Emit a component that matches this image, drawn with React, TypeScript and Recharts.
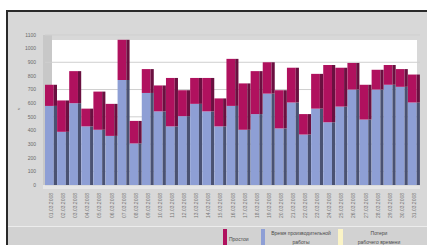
import React from 'react';
import { Bar, BarChart, CartesianGrid, XAxis, YAxis } from 'recharts';

// ─── Data ────────────────────────────────────────────────────────────────────

const days = [
  '01.03.2008', '02.03.2008', '03.03.2008', '04.03.2008', '05.03.2008', '06.03.2008',
  '07.03.2008', '08.03.2008', '09.03.2008', '10.03.2008', '11.03.2008', '12.03.2008',
  '13.03.2008', '14.03.2008', '15.03.2008', '16.03.2008', '17.03.2008', '18.03.2008',
  '19.03.2008', '20.03.2008', '21.03.2008', '22.03.2008', '23.03.2008', '24.03.2008',
  '25.03.2008', '26.03.2008', '27.03.2008', '28.03.2008', '29.03.2008', '30.03.2008',
  '31.03.2008',
];

const productiveTime = [
  580, 390, 600, 430, 405, 360, 770, 305, 675, 540, 430, 505, 595, 540, 430, 580,
  405, 520, 670, 415, 605, 370, 560, 460, 575, 700, 480, 700, 735, 720, 605,
];

const downtime = [
  155, 230, 235, 130, 280, 235, 295, 165, 175, 190, 355, 190, 190, 245, 205, 345,
  340, 315, 230, 280, 255, 150, 255, 420, 285, 195, 255, 145, 145, 130, 205,
];

const lostTime = [
  0, 0, 0, 0, 0, 0, 0, 0, 0, 0, 0, 0, 0, 0, 0, 0,
  0, 0, 0, 0, 0, 0, 0, 0, 0, 0, 0, 0, 0, 0, 0,
];

const yTicks = [0, 100, 200, 300, 400, 500, 600, 700, 800, 900, 1000, 1100];

const seriesNames = ['Простои', 'Время производительной работы', 'Потери рабочего времени'];

const chartData = days.map((day, i) => ({
  day,
  productive: productiveTime[i],
  downtime: downtime[i],
  lost: lostTime[i],
}));

// ─── Colours ─────────────────────────────────────────────────────────────────

const MAGENTA = '#b0115e';
const MAGENTA_SIDE = '#6a1040';
const BLUE = '#8e9fd5';
const BLUE_SIDE = '#4a5272';
const YELLOW = '#fbf4c6';
const FONT = '"Liberation Sans", Arial, sans-serif';

// ─── Pseudo-3D bar shape ─────────────────────────────────────────────────────

function Bar3D(props: any) {
  const { x, y, width, height, fill, side } = props;
  if (!height || height <= 0) return null;
  const sw = Math.max(2, width * 0.27);
  return (
    <g>
      <rect x={x} y={y} width={width - sw} height={height} fill={fill} />
      <rect x={x + width - sw} y={y} width={sw} height={height} fill={side} />
    </g>
  );
}

function DayTick(props: any) {
  const { x, y, payload } = props;
  return (
    <text
      x={x}
      y={y}
      transform={`rotate(-90 ${x} ${y})`}
      textAnchor="end"
      dominantBaseline="central"
      fontSize={5}
      fontFamily={FONT}
      fill="#777777"
    >
      {payload.value}
    </text>
  );
}

// ─── Legend ──────────────────────────────────────────────────────────────────

const legendText: React.CSSProperties = {
  position: 'absolute',
  fontFamily: FONT,
  fontSize: 5,
  lineHeight: '9px',
  color: '#4a4a4a',
  textAlign: 'center',
};

export default function App() {
  return (
    <div
      style={{
        position: 'absolute',
        left: 0,
        top: 0,
        width: 427,
        height: 245,
        background: '#ffffff',
        overflow: 'hidden',
      }}
    >
      {/* frame */}
      <div
        style={{
          position: 'absolute',
          left: 6,
          top: 10,
          width: 421,
          height: 235,
          background: '#d8d8d8',
          borderLeft: '2px solid #2a2a2a',
          borderTop: '2px solid #2a2a2a',
          boxSizing: 'border-box',
        }}
      />
      {/* side wall and back wall of the 3D plot */}
      <div style={{ position: 'absolute', left: 43, top: 35, width: 9, height: 150, background: '#c8c8c8' }} />
      <div style={{ position: 'absolute', left: 52, top: 40, width: 365, height: 145, background: '#ffffff' }} />
      <div style={{ position: 'absolute', left: 43, top: 185, width: 377, height: 4, background: '#e6e6e6' }} />
      {/* legend area */}
      <div
        style={{
          position: 'absolute',
          left: 8,
          top: 226,
          width: 419,
          height: 19,
          background: '#d2d2d2',
          borderTop: '1px solid #ececec',
        }}
      />

      <div style={{ position: 'absolute', left: 0, top: 0 }}>
        <BarChart
          width={427}
          height={245}
          data={chartData}
          margin={{ top: 35, right: 7, bottom: 20, left: 8 }}
          barCategoryGap={0}
        >
          <CartesianGrid horizontal vertical={false} stroke="#cfcfcf" />
          <XAxis
            dataKey="day"
            interval={0}
            height={40}
            tick={<DayTick />}
            tickLine={false}
            axisLine={false}
            tickSize={0}
            tickMargin={8}
          />
          <YAxis
            type="number"
            domain={[0, 1100]}
            ticks={yTicks}
            width={37}
            tickLine={false}
            axisLine={false}
            tickSize={0}
            tickMargin={9}
            tick={{ fontSize: 5, fill: '#6a6a6a', fontFamily: FONT }}
            label={{
              value: 'ч',
              angle: -90,
              position: 'insideLeft',
              offset: 10,
              fontSize: 5,
              fill: '#6a6a6a',
            }}
          />
          <Bar
            dataKey="productive"
            name={seriesNames[1]}
            stackId="a"
            fill={BLUE}
            shape={(p: any) => <Bar3D {...p} side={BLUE_SIDE} />}
            isAnimationActive={false}
          />
          <Bar
            dataKey="downtime"
            name={seriesNames[0]}
            stackId="a"
            fill={MAGENTA}
            shape={(p: any) => <Bar3D {...p} side={MAGENTA_SIDE} />}
            isAnimationActive={false}
          />
          <Bar
            dataKey="lost"
            name={seriesNames[2]}
            stackId="a"
            fill={YELLOW}
            shape={(p: any) => <Bar3D {...p} side="#d8d1a0" />}
            isAnimationActive={false}
          />
        </BarChart>
      </div>

      {/* legend items */}
      <div style={{ position: 'absolute', left: 223, top: 229, width: 4, height: 16, background: MAGENTA }} />
      <div style={{ ...legendText, left: 229, top: 235, textAlign: 'left' }}>{seriesNames[0]}</div>
      <div style={{ position: 'absolute', left: 261, top: 229, width: 4, height: 16, background: BLUE }} />
      <div style={{ ...legendText, left: 268, top: 229, width: 66 }}>
        Время производительной
        <br />
        работы
      </div>
      <div style={{ position: 'absolute', left: 338, top: 229, width: 5, height: 16, background: YELLOW }} />
      <div style={{ ...legendText, left: 348, top: 229, width: 62 }}>
        Потери
        <br />
        рабочего времени
      </div>
    </div>
  );
}
